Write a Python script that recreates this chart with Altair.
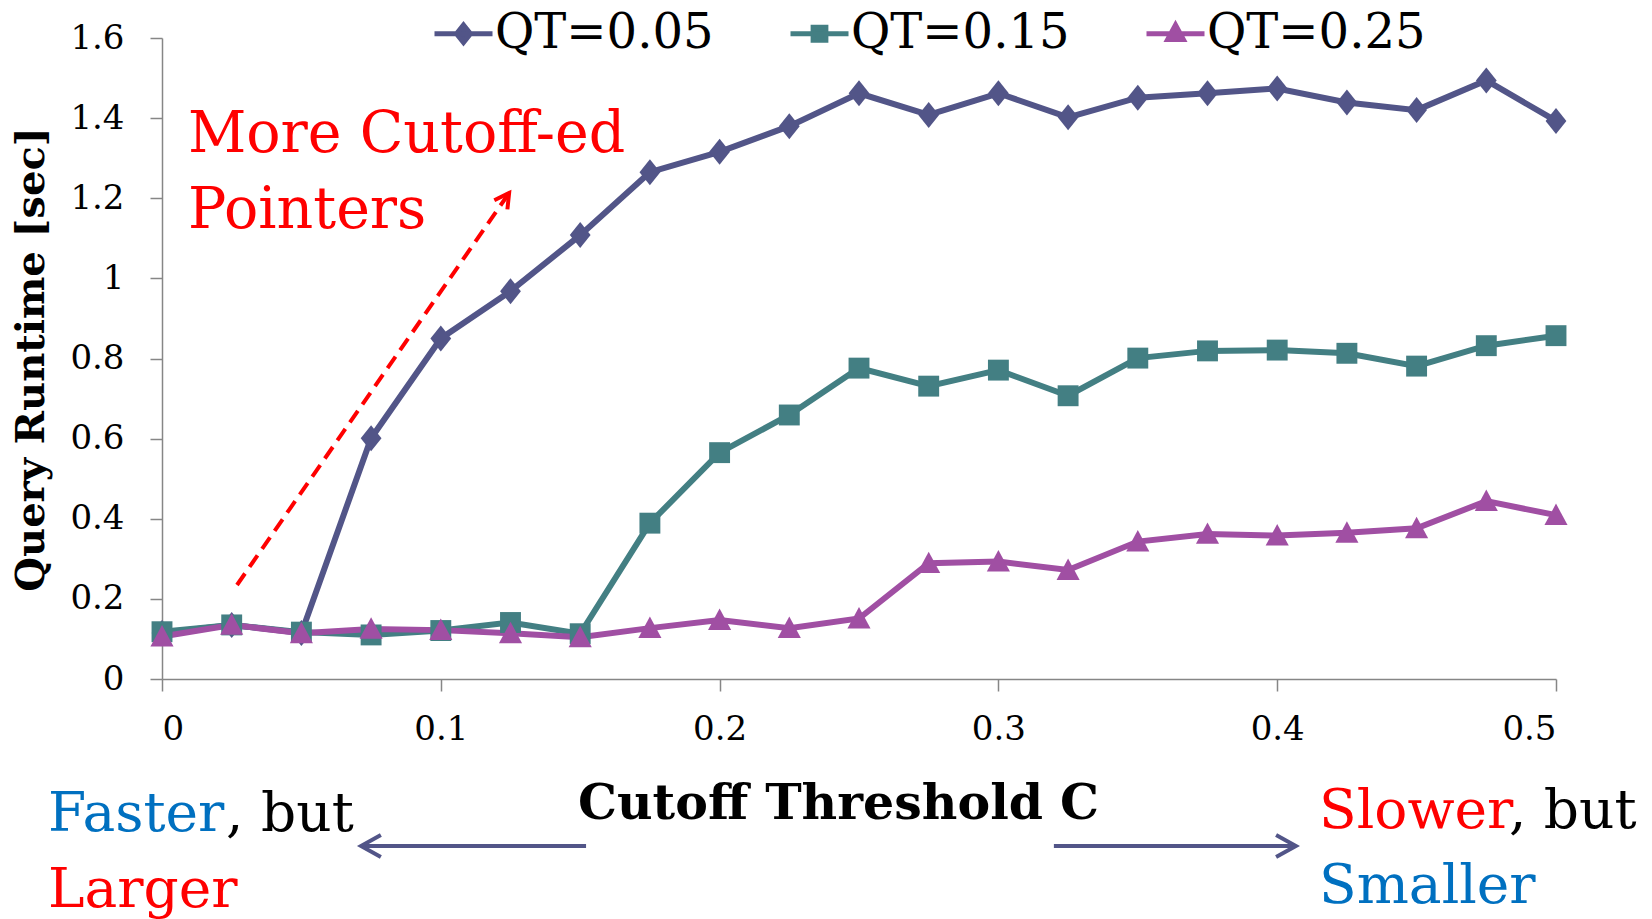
import altair as alt
import pandas as pd

# ---------------- data ----------------
cutoff = [0, 0.025, 0.05, 0.075, 0.1, 0.125, 0.15, 0.175, 0.2, 0.225, 0.25,
          0.275, 0.3, 0.325, 0.35, 0.375, 0.4, 0.425, 0.45, 0.475, 0.5]
qt_005 = [0.115, 0.135, 0.115, 0.601, 0.850, 0.968, 1.108, 1.265, 1.316, 1.380, 1.462,
          1.408, 1.462, 1.402, 1.451, 1.462, 1.474, 1.439, 1.420, 1.494, 1.393]
qt_015 = [0.118, 0.135, 0.117, 0.110, 0.121, 0.141, 0.113, 0.389, 0.565, 0.659, 0.776,
          0.731, 0.771, 0.707, 0.801, 0.819, 0.821, 0.813, 0.781, 0.832, 0.857]
qt_025 = [0.106, 0.135, 0.114, 0.125, 0.122, 0.114, 0.104, 0.127, 0.147, 0.127, 0.151,
          0.289, 0.293, 0.272, 0.343, 0.362, 0.358, 0.365, 0.376, 0.444, 0.409]

series_names = ["QT=0.05", "QT=0.15", "QT=0.25"]
series_colors = ["#525588", "#437F83", "#A04FA3"]

x_ticks = [0, 0.1, 0.2, 0.3, 0.4, 0.5]
y_ticks = [0, 0.2, 0.4, 0.6, 0.8, 1, 1.2, 1.4, 1.6]

# annotation anchors (data coordinates)
red_text = ["More Cutoff-ed", "Pointers"]
red_text_x = [0.0093, 0.0093]
red_text_y = [1.3155, 1.1258]

red_arrow_x = [0.0269, 0.1245]
red_arrow_y = [0.2346, 1.2131]

left_words = ["Faster", ", but", "Larger"]
left_words_x = [-0.0409, 0.0230, -0.0409]
left_words_y = [-0.3794, -0.3794, -0.5691]
left_colors = ["#0070C0", "#000000", "#FF0000"]

right_words = ["Slower", ", but", "Smaller"]
right_words_x = [0.4150, 0.4831, 0.4150]
right_words_y = [-0.3719, -0.3719, -0.5592]
right_colors = ["#FF0000", "#000000", "#0070C0"]

left_arrow_x = [0.1521, 0.0714]
right_arrow_x = [0.3199, 0.4067]
bottom_arrow_y = [-0.4169, -0.4169]

# ---------------- tables ----------------
rows = []
for name, vals in zip(series_names, [qt_005, qt_015, qt_025]):
    for c, v in zip(cutoff, vals):
        rows.append({"cutoff": c, "runtime": v, "series": name})
df = pd.DataFrame(rows)

FONT = "DejaVu Serif"
AXIS_GRAY = "#868686"

xs = alt.Scale(domain=[0, 0.5], nice=False, zero=False)
ys = alt.Scale(domain=[0, 1.6], nice=False)

x_axis = alt.Axis(
    values=x_ticks,
    labelExpr="datum.value == 0 ? '0' : format(datum.value, '.1f')",
    title="Cutoff Threshold C",
    titleFont=FONT, titleFontSize=49, titleFontWeight="bold", titleColor="black",
    titleX=676, titleY=139, titleBaseline="alphabetic", titleAlign="center",
    labelFont=FONT, labelFontSize=34, labelColor="black",
    labelBaseline="middle", labelPadding=38,
    tickSize=12, tickColor=AXIS_GRAY, tickWidth=1.5,
    domainColor=AXIS_GRAY, domainWidth=1.5, grid=False,
)
y_axis = alt.Axis(
    values=y_ticks, format="~g",
    title="Query Runtime [sec]",
    titleFont=FONT, titleFontSize=40, titleFontWeight="bold", titleColor="black",
    titleX=-119, titleY=321, titleAngle=270, titleBaseline="alphabetic", titleAlign="center",
    labelFont=FONT, labelFontSize=34, labelColor="black", labelPadding=26,
    tickSize=12, tickColor=AXIS_GRAY, tickWidth=1.5,
    domainColor=AXIS_GRAY, domainWidth=1.5, grid=False,
)

X = alt.X("cutoff:Q", scale=xs, axis=x_axis)
Y = alt.Y("runtime:Q", scale=ys, axis=y_axis)

color_scale = alt.Scale(domain=series_names, range=series_colors)

marker_paths = [
    "M 0 -1 L 0.8 0 L 0 1 L -0.8 0 Z",
    "M -0.95 -0.95 L 0.95 -0.95 L 0.95 0.95 L -0.95 0.95 Z",
    "M 0 -1.05 L 1.05 0.9 L -1.05 0.9 Z",
]
marker_sizes = [676, 484, 484]

line_layers = []
point_layers = []
for name, col, path, sz in zip(series_names, series_colors, marker_paths, marker_sizes):
    line_layers.append(
        alt.Chart(df).transform_filter(alt.datum.series == name)
        .mark_line(strokeWidth=6, color=col)
        .encode(x=X, y=Y)
    )
    point_layers.append(
        alt.Chart(df).transform_filter(alt.datum.series == name)
        .mark_point(shape=path, filled=True, size=sz, color=col, opacity=1)
        .encode(x=X, y=Y)
    )

# legend: symbols are a line segment with the series marker on it
legend_paths = [
    "M -1 0 L 1 0 M 0 -0.3 L 0.24 0 L 0 0.3 L -0.24 0 Z",
    "M -1 0 L 1 0 M -0.22 -0.22 L 0.22 -0.22 L 0.22 0.22 L -0.22 0.22 Z",
    "M -1 0 L 1 0 M 0 -0.3 L 0.27 0.2 L -0.27 0.2 Z",
]
legend_def = alt.Legend(
    title=None, orient="none", legendX=270, legendY=-36, direction="horizontal",
    symbolSize=3364, symbolStrokeWidth=5, symbolOpacity=1,
    labelFont=FONT, labelFontSize=48, labelColor="black", labelOffset=0,
    labelLimit=400, columnPadding=66, padding=0,
)
# legend-only layer: no rows are drawn, the legend is built from the scale domain
legend_layer = alt.Chart(df).transform_filter("false").mark_point(
    filled=True, size=3364, strokeWidth=5, opacity=1
).encode(
    x=X, y=Y,
    fill=alt.Fill("series:N", scale=color_scale, legend=legend_def),
    stroke=alt.Stroke("series:N", scale=color_scale, legend=legend_def),
    shape=alt.Shape("series:N", scale=alt.Scale(domain=series_names, range=legend_paths),
                    legend=legend_def),
)

# ---------------- annotations ----------------
red_df = pd.DataFrame({"cutoff": red_text_x, "runtime": red_text_y, "t": red_text})
red_txt = alt.Chart(red_df).mark_text(
    align="left", baseline="alphabetic", font=FONT, fontSize=57, color="#FF0000"
).encode(x=X, y=Y, text="t:N")

red_arrow_df = pd.DataFrame({"cutoff": red_arrow_x, "runtime": red_arrow_y})
red_line = alt.Chart(red_arrow_df).mark_line(
    color="#FF0000", strokeWidth=4, strokeDash=[14, 8]
).encode(x=X, y=Y)

chevron = "M -1 1.8 L 0 0 L 1 1.8"
red_head = alt.Chart(pd.DataFrame({"cutoff": red_arrow_x[1:], "runtime": red_arrow_y[1:]})).mark_point(
    shape=chevron, filled=False, size=256, strokeWidth=4, color="#FF0000", angle=35, opacity=1
).encode(x=X, y=Y)

word_layers = []
for words, wx, wy, wc in [(left_words, left_words_x, left_words_y, left_colors),
                          (right_words, right_words_x, right_words_y, right_colors)]:
    for w, xx, yy, cc in zip(words, wx, wy, wc):
        word_layers.append(
            alt.Chart(pd.DataFrame({"cutoff": [xx], "runtime": [yy], "t": [w]})).mark_text(
                align="left", baseline="alphabetic", font=FONT, fontSize=55, color=cc
            ).encode(x=X, y=Y, text="t:N")
        )

BLUE = "#525588"
left_shaft = alt.Chart(pd.DataFrame({"cutoff": left_arrow_x, "runtime": bottom_arrow_y})).mark_line(
    color=BLUE, strokeWidth=4).encode(x=X, y=Y)
right_shaft = alt.Chart(pd.DataFrame({"cutoff": right_arrow_x, "runtime": bottom_arrow_y})).mark_line(
    color=BLUE, strokeWidth=4).encode(x=X, y=Y)
left_head = alt.Chart(pd.DataFrame({"cutoff": left_arrow_x[1:], "runtime": bottom_arrow_y[1:]})).mark_point(
    shape=chevron, filled=False, size=484, strokeWidth=4, color=BLUE, angle=270, opacity=1
).encode(x=X, y=Y)
right_head = alt.Chart(pd.DataFrame({"cutoff": right_arrow_x[1:], "runtime": bottom_arrow_y[1:]})).mark_point(
    shape=chevron, filled=False, size=484, strokeWidth=4, color=BLUE, angle=90, opacity=1
).encode(x=X, y=Y)

chart = alt.layer(
    *line_layers, *point_layers, legend_layer,
    red_line, red_head, red_txt,
    left_shaft, right_shaft, left_head, right_head,
    *word_layers,
).properties(
    width=1394, height=641,
    padding={"left": 162, "top": 38, "right": 96, "bottom": 240},
    autosize=alt.AutoSizeParams(type="none"),
    background="white",
).configure_view(stroke=None)

chart.save("out.html", embed_options={"renderer": "svg", "actions": False})
